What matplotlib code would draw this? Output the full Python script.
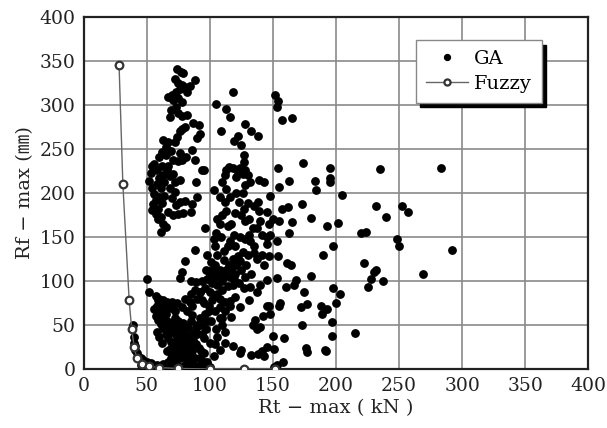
import matplotlib.pyplot as plt

# GA results in clusters (Rt-max kN, Rf-max mm)
ga_upper_left = [
    (74, 341), (77, 338), (79, 336), (72, 330), (75, 325), (78, 323), (80, 320), (76, 318),
    (73, 315), (70, 312), (67, 309), (71, 306), (75, 308), (78, 304), (82, 315), (88, 328),
    (84, 322), (73, 298), (69, 294), (68, 286), (75, 291), (78, 288), (82, 289), (87, 280),
    (91, 277), (92, 267), (90, 262), (78, 273), (80, 275), (76, 270), (74, 264), (72, 258),
    (67, 258), (63, 260), (65, 252), (62, 247), (60, 241), (69, 248), (65, 243), (71, 237),
    (75, 236), (78, 238), (81, 241), (76, 246), (86, 249), (88, 237), (94, 226), (56, 233),
    (54, 231), (53, 223), (52, 214), (54, 206), (56, 199), (57, 192), (55, 187), (54, 181),
    (57, 176), (59, 171), (61, 173), (59, 182), (62, 189), (64, 197), (61, 206), (60, 217),
    (58, 226), (62, 231), (66, 226), (68, 219), (64, 213), (68, 206), (72, 201), (70, 194),
    (73, 186), (76, 190), (80, 191), (85, 178), (79, 177), (75, 176), (71, 175), (67, 178),
    (63, 165), (65, 161), (61, 156), (76, 215), (72, 212), (71, 222), (67, 231), (89, 212),
    (90, 196), (86, 188), (60, 195), (58, 210), (63, 220),
]
ga_lower_left = [
    (50, 102), (52, 87), (57, 83), (60, 80), (63, 78), (66, 76), (70, 76), (74, 75),
    (80, 80), (84, 76), (58, 72), (60, 66), (62, 62), (64, 58), (66, 55), (68, 52),
    (70, 50), (72, 48), (75, 46), (78, 44), (80, 42), (82, 38), (59, 56), (61, 51),
    (63, 46), (65, 40), (67, 35), (69, 31), (71, 28), (73, 25), (75, 22), (77, 20),
    (79, 18), (81, 22), (83, 26), (85, 30), (87, 33), (89, 28), (91, 24), (93, 20),
    (70, 15), (72, 10), (74, 5), (76, 2), (80, 5), (82, 10), (84, 14), (86, 8),
    (88, 3), (66, 20), (68, 23), (62, 30), (60, 36), (58, 42), (74, 36), (78, 31),
    (80, 28), (76, 12), (78, 15), (90, 50), (92, 58), (86, 61), (82, 66), (78, 70),
    (72, 66), (70, 69), (68, 72), (66, 68), (64, 71), (87, 41), (89, 46), (94, 40),
    (86, 71), (90, 79), (95, 75), (99, 66), (73, 40), (76, 38), (70, 42), (67, 45),
    (65, 63), (72, 58), (75, 55), (79, 52), (83, 48), (85, 54), (73, 18), (71, 20),
    (69, 12), (67, 8), (64, 5), (62, 3), (84, 3), (92, 12), (95, 8), (97, 2),
    (86, 20), (81, 33), (77, 28), (74, 30), (63, 70), (61, 75), (59, 78), (56, 68),
    (57, 60), (85, 85), (92, 88), (89, 99),
    (39, 50), (40, 36), (40, 30), (41, 26), (41, 22), (42, 18), (43, 14), (45, 12),
    (47, 10), (50, 8), (53, 7), (55, 5), (58, 4), (60, 3), (63, 6), (66, 2),
    (69, 4), (45, 4), (48, 2), (52, 2), (56, 1),
]
ga_middle = [
    (105, 301), (113, 296), (116, 286), (118, 315), (128, 279), (133, 271), (138, 265),
    (122, 265), (119, 259), (125, 255), (127, 243), (127, 235), (109, 271), (95, 226),
    (112, 221), (118, 228), (122, 224), (126, 222), (130, 220), (121, 218), (132, 212),
    (139, 215), (143, 212), (128, 209), (110, 212), (113, 205), (108, 195), (103, 203),
    (121, 200), (126, 200), (130, 189), (135, 185), (138, 190), (139, 180), (145, 178),
    (140, 168), (137, 160), (141, 152), (145, 150), (131, 170), (128, 168), (125, 175),
    (120, 177), (117, 165), (114, 162), (113, 180), (110, 175), (108, 165), (105, 155),
    (103, 148), (109, 150), (114, 140), (120, 140), (124, 150), (128, 148), (132, 145),
    (135, 140), (141, 130), (147, 128), (143, 118), (137, 125), (130, 130), (126, 133),
    (122, 128), (118, 125), (115, 118), (111, 124), (106, 130), (101, 122), (97, 113),
    (102, 112), (107, 108), (112, 106), (116, 104), (120, 108), (125, 112), (129, 118),
    (133, 108), (128, 104), (123, 98), (118, 96), (114, 94), (110, 90), (106, 95),
    (102, 98), (98, 102), (94, 100), (96, 92), (100, 88), (104, 84), (108, 80),
    (112, 76), (116, 72), (120, 82), (127, 92), (132, 93), (140, 95), (137, 88),
    (131, 78), (124, 70), (117, 59), (110, 58), (104, 66), (99, 72), (94, 78),
    (96, 62), (101, 55), (105, 45), (97, 45), (93, 50), (90, 40), (95, 35),
    (100, 30), (104, 28), (108, 22), (103, 15), (95, 18), (98, 8), (100, 2),
    (92, 5), (88, 12), (85, 23), (118, 26), (124, 18), (125, 22), (133, 16),
    (138, 17), (141, 20), (145, 25), (143, 15), (134, 50), (136, 56), (137, 45),
    (140, 48), (112, 42), (116, 77), (142, 60), (145, 72), (108, 58), (96, 160),
    (88, 135), (80, 123), (76, 103), (78, 110), (85, 100), (88, 90), (92, 88),
    (104, 118), (108, 112), (110, 100), (113, 112), (117, 114), (121, 118), (119, 102),
    (104, 104), (100, 108), (106, 85), (102, 78), (108, 70), (112, 66), (98, 55),
    (104, 140), (106, 170), (112, 190), (116, 196), (123, 190), (127, 182), (134, 160),
    (131, 152), (119, 152), (116, 145), (111, 134), (124, 123), (135, 132), (98, 130),
    (113, 226), (124, 228), (128, 226), (115, 230), (110, 50), (106, 36), (112, 30),
]
ga_right = [
    (283, 228), (292, 135), (269, 108), (257, 178), (252, 185), (250, 140), (248, 148),
    (240, 173), (237, 100), (235, 227), (232, 185), (232, 113), (230, 110), (228, 102),
    (225, 93), (222, 121), (224, 156), (220, 155), (215, 41), (205, 198), (203, 85),
    (202, 166), (200, 75), (198, 140), (198, 92), (197, 53), (197, 37), (195, 229),
    (195, 213), (195, 217), (193, 163), (193, 68), (192, 20), (191, 22), (190, 130),
    (189, 62), (188, 71), (184, 203), (183, 214), (180, 172), (180, 106), (177, 19),
    (176, 24), (177, 74), (175, 88), (174, 234), (173, 188), (173, 50), (172, 70),
    (168, 101), (167, 95), (165, 285), (165, 167), (163, 155), (164, 118), (162, 184),
    (163, 214), (161, 120), (159, 35), (160, 93), (158, 8), (157, 182), (156, 75),
    (154, 229), (155, 207), (155, 168), (157, 283), (154, 305), (153, 298), (152, 312),
    (153, 146), (154, 128), (153, 103), (150, 38), (151, 2), (151, 23), (148, 62),
    (147, 71), (148, 197), (147, 165), (145, 142), (145, 101), (148, 152), (150, 170),
    (153, 5), (155, 72),
]

# Fuzzy curve
fuzzy_rt = [28, 31, 36, 38, 40, 42, 46, 52, 60, 75, 100, 127, 152]
fuzzy_rf = [345, 210, 78, 45, 25, 12, 6, 3, 1.5, 0.5, 0, 0, 0]

ga = ga_upper_left + ga_lower_left + ga_middle + ga_right
ga_rt = [p[0] for p in ga]
ga_rf = [p[1] for p in ga]

plt.rcParams['font.family'] = ['DejaVu Serif', 'Noto Sans CJK JP']

fig = plt.figure(figsize=(6.07, 4.28), dpi=100)
ax = fig.add_axes([0.138, 0.138, 0.831, 0.822])

ax.plot(ga_rt, ga_rf, 'o', color='black', markersize=5.3, linestyle='none',
        label='GA', zorder=3)
ax.plot(fuzzy_rt, fuzzy_rf, '-o', color='#666666', markerfacecolor='white',
        markeredgecolor='#333333', markeredgewidth=1.6, markersize=5.5, linewidth=1,
        label='Fuzzy', zorder=4)

ax.set_xlim(0, 400)
ax.set_ylim(0, 400)
ax.set_xticks(range(0, 401, 50))
ax.set_yticks(range(0, 401, 50))
ax.grid(True, color='#8a8a8a', linewidth=1.2)
ax.set_axisbelow(True)
ax.tick_params(length=0, labelsize=13.5, pad=6, colors='#222222')
for s in ax.spines.values():
    s.set_linewidth(1.6)
    s.set_color('#222222')

ax.set_xlabel('Rt − max ( kN )', fontsize=14, color='#222222', labelpad=3)
ax.set_ylabel('Rf − max (㎜)', fontsize=14, color='#222222', labelpad=4)

leg = ax.legend(loc='upper right', bbox_to_anchor=(0.908, 0.934), borderaxespad=0,
                fontsize=14, fancybox=False, edgecolor='#888888', framealpha=1,
                shadow={'color': 'black', 'alpha': 1, 'ox': 3, 'oy': -3},
                handlelength=2.2, handletextpad=0.3, borderpad=0.5,
                labelspacing=0.35, markerscale=0.8)
leg.get_frame().set_linewidth(1)

fig.savefig('out.png', dpi=100)
